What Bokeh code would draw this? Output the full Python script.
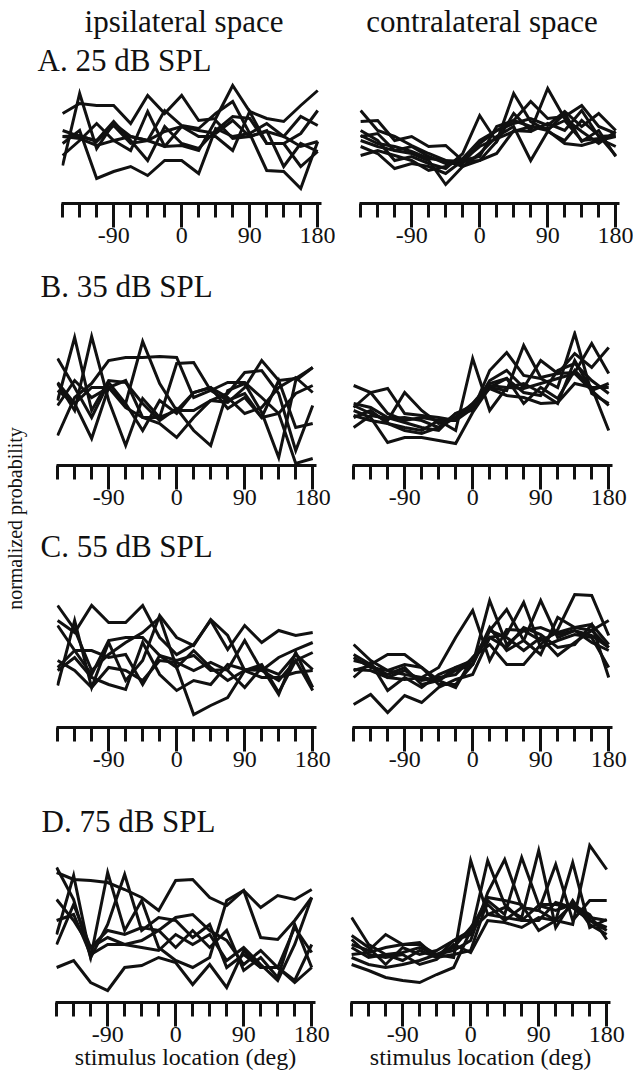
from bokeh.plotting import figure
from bokeh.layouts import row, column
from bokeh.models import FixedTicker, Label
from bokeh.embed import file_html
from bokeh.resources import INLINE

# ---------------- data ----------------
ANGLES = [-157.5, -135, -112.5, -90, -67.5, -45, -22.5, 0,
          22.5, 45, 67.5, 90, 112.5, 135, 157.5, 180]
MAJOR_TICKS = [-90, 0, 90, 180]
TICK_LABELS = ["-90", "0", "90", "180"]
MINOR_TICKS = [-157.5, -135, -112.5, -67.5, -45, -22.5,
               22.5, 45, 67.5, 112.5, 135, 157.5]

COLUMN_TITLES = ["ipsilateral space", "contralateral space"]
ROW_LABELS = ["A. 25 dB SPL", "B. 35 dB SPL", "C. 55 dB SPL", "D. 75 dB SPL"]
Y_LABEL = "normalized probability"
X_LABEL = "stimulus location (deg)"

A_IPSI = [
    [0.90, 1.00, 0.98, 0.98, 0.80, 1.08, 0.90, 1.08, 0.83, 0.85, 1.18, 0.92, 0.85, 0.82, 0.98, 1.13],
    [0.38, 1.10, 0.55, 0.80, 0.67, 0.63, 0.93, 0.78, 0.75, 0.90, 1.02, 0.70, 0.80, 0.67, 0.87, 0.78],
    [0.73, 0.67, 0.63, 0.82, 0.63, 0.43, 0.77, 0.60, 0.55, 0.73, 0.87, 0.85, 0.60, 0.60, 0.70, 0.93],
    [0.67, 0.65, 0.58, 0.63, 0.53, 0.92, 0.57, 0.58, 0.53, 0.83, 0.65, 0.67, 0.73, 0.37, 0.60, 0.52],
    [0.48, 0.63, 0.80, 0.63, 0.67, 0.63, 0.57, 0.77, 0.67, 0.67, 0.53, 0.92, 0.60, 0.60, 0.37, 0.52],
    [0.60, 0.73, 0.25, 0.32, 0.37, 0.28, 0.43, 0.43, 0.30, 0.75, 0.67, 0.70, 0.33, 0.32, 0.15, 0.62],
    [0.67, 0.68, 0.62, 0.78, 0.60, 0.63, 0.72, 0.77, 0.73, 0.70, 0.83, 0.67, 0.72, 0.67, 0.57, 0.62],
]
A_CONTRA = [
    [0.93, 0.73, 0.67, 0.58, 0.50, 0.43, 0.37, 0.43, 0.62, 1.10, 0.82, 0.73, 0.90, 0.62, 0.73, 0.47],
    [0.82, 0.83, 0.63, 0.67, 0.57, 0.58, 0.43, 0.47, 0.77, 0.83, 1.02, 0.85, 0.87, 0.98, 0.77, 0.70],
    [0.73, 0.63, 0.43, 0.47, 0.40, 0.35, 0.50, 0.88, 0.62, 0.90, 0.73, 1.15, 0.85, 0.72, 0.60, 0.72],
    [0.67, 0.70, 0.53, 0.50, 0.43, 0.19, 0.37, 0.50, 0.67, 0.77, 0.43, 0.72, 0.63, 0.83, 0.68, 0.48],
    [0.63, 0.57, 0.53, 0.57, 0.47, 0.40, 0.40, 0.60, 0.73, 0.80, 0.85, 0.78, 0.92, 0.77, 0.90, 0.73],
    [0.57, 0.50, 0.35, 0.40, 0.37, 0.30, 0.43, 0.57, 0.65, 0.72, 0.77, 0.73, 0.60, 0.58, 0.63, 0.67],
    [0.48, 0.53, 0.48, 0.43, 0.33, 0.37, 0.45, 0.63, 0.73, 0.83, 0.77, 0.75, 0.83, 0.63, 0.65, 0.57],
    [0.68, 0.60, 0.57, 0.52, 0.45, 0.43, 0.42, 0.43, 0.50, 0.73, 0.72, 0.80, 0.73, 0.93, 0.67, 0.68],
]
B_IPSI = [
    [1.07, 0.78, 0.48, 0.83, 0.62, 0.35, 0.65, 0.52, 0.73, 0.78, 0.57, 0.68, 0.48, 0.85, 0.38, 0.42],
    [0.65, 1.28, 0.55, 0.85, 0.83, 0.62, 0.45, 0.57, 0.35, 0.20, 0.75, 0.82, 0.53, 0.08, 0.85, 0.98],
    [0.82, 0.55, 1.29, 0.65, 0.20, 0.67, 0.48, 0.55, 0.73, 0.78, 0.68, 0.52, 0.58, 0.78, 0.88, 0.73],
    [0.30, 0.68, 0.82, 1.05, 1.08, 1.08, 1.09, 1.08, 0.68, 0.75, 0.83, 0.83, 0.68, 0.52, 0.02, 0.07],
    [0.83, 0.62, 0.27, 0.78, 0.62, 1.24, 0.82, 0.55, 0.55, 0.65, 0.63, 0.78, 1.05, 0.85, 0.87, 0.98],
    [0.60, 0.85, 0.68, 0.78, 0.58, 0.48, 0.42, 0.28, 0.48, 0.65, 0.72, 0.93, 0.95, 0.72, 0.15, 0.60],
    [0.75, 0.62, 0.78, 0.78, 0.85, 0.48, 0.48, 1.02, 1.03, 0.75, 0.65, 0.72, 0.48, 0.52, 0.72, 0.80],
]
B_CONTRA = [
    [0.80, 0.73, 0.52, 0.45, 0.48, 0.45, 0.35, 1.07, 0.55, 0.78, 0.82, 0.73, 0.62, 1.05, 0.75, 0.60],
    [0.62, 0.58, 0.48, 0.43, 0.38, 0.35, 0.52, 0.55, 0.95, 1.13, 0.90, 0.87, 0.78, 1.32, 0.72, 0.62],
    [0.60, 0.52, 0.45, 0.73, 0.55, 0.42, 0.48, 0.62, 0.78, 0.75, 1.20, 0.88, 0.92, 0.93, 1.22, 0.92],
    [0.55, 0.48, 0.23, 0.28, 0.28, 0.25, 0.22, 0.53, 0.78, 0.87, 0.62, 0.78, 0.67, 0.95, 0.78, 0.35],
    [0.50, 0.45, 0.42, 0.38, 0.35, 0.45, 0.45, 0.57, 0.85, 0.95, 0.78, 1.05, 0.92, 1.12, 0.98, 1.18],
    [0.48, 0.55, 0.42, 0.35, 0.32, 0.38, 0.48, 0.58, 0.77, 0.70, 0.68, 0.62, 0.63, 0.82, 0.78, 0.78],
    [0.38, 0.50, 0.47, 0.48, 0.45, 0.38, 0.52, 0.60, 0.80, 0.78, 0.77, 0.82, 0.87, 0.92, 0.75, 0.82],
    [0.58, 0.73, 0.77, 0.52, 0.50, 0.48, 0.45, 0.62, 0.82, 0.87, 0.73, 0.70, 0.95, 1.02, 0.85, 0.72],
]
C_IPSI = [
    [1.07, 0.95, 1.22, 1.05, 1.05, 1.22, 0.90, 0.73, 0.83, 1.07, 0.78, 1.02, 0.85, 0.97, 0.92, 0.95],
    [1.22, 0.98, 0.57, 0.73, 0.85, 0.95, 1.10, 0.60, 0.77, 0.60, 0.47, 0.57, 0.60, 0.53, 0.73, 0.58],
    [0.42, 1.07, 0.40, 0.85, 0.47, 0.67, 1.12, 0.90, 0.82, 1.08, 0.92, 0.57, 0.63, 0.35, 0.67, 0.37],
    [1.02, 0.77, 0.53, 0.87, 0.90, 0.90, 0.72, 0.60, 0.13, 0.22, 0.30, 0.57, 0.50, 0.50, 0.55, 0.57],
    [0.67, 0.57, 0.40, 0.60, 0.57, 0.47, 0.67, 0.65, 0.57, 0.65, 0.57, 0.40, 0.60, 0.33, 0.75, 0.40],
    [0.57, 0.70, 0.50, 0.43, 0.38, 0.85, 0.53, 0.37, 0.47, 0.43, 0.63, 0.58, 0.57, 0.70, 0.78, 0.85],
    [0.60, 0.77, 0.77, 0.70, 0.73, 0.43, 0.72, 0.67, 0.72, 0.57, 0.58, 0.87, 0.57, 0.47, 0.67, 0.75],
]
C_CONTRA = [
    [0.83, 0.67, 0.57, 0.53, 0.50, 0.60, 0.90, 1.17, 0.67, 0.98, 0.97, 0.87, 0.95, 1.00, 0.97, 0.80],
    [0.73, 0.63, 0.73, 0.73, 0.60, 0.43, 0.43, 0.63, 1.27, 0.83, 0.97, 1.00, 0.93, 0.97, 0.85, 0.77],
    [0.70, 0.60, 0.57, 0.63, 0.60, 0.47, 0.57, 0.63, 0.97, 1.18, 0.87, 0.73, 1.10, 1.00, 1.03, 0.83],
    [0.67, 0.63, 0.50, 0.57, 0.47, 0.50, 0.53, 0.70, 0.90, 0.93, 1.25, 0.80, 0.87, 0.93, 0.90, 0.60],
    [0.58, 0.57, 0.50, 0.48, 0.50, 0.47, 0.60, 0.63, 1.00, 0.77, 0.87, 1.27, 0.90, 0.97, 0.92, 0.80],
    [0.57, 0.62, 0.53, 0.60, 0.43, 0.47, 0.40, 0.70, 0.83, 0.63, 0.63, 0.83, 0.98, 1.33, 1.32, 0.92],
    [0.50, 0.65, 0.37, 0.50, 0.40, 0.53, 0.60, 0.67, 0.97, 0.90, 0.77, 0.90, 0.72, 0.85, 0.97, 1.07],
    [0.23, 0.33, 0.15, 0.32, 0.25, 0.40, 0.48, 0.53, 0.90, 0.80, 1.00, 0.93, 0.80, 0.83, 1.03, 0.50],
]
D_IPSI = [
    [1.30, 1.23, 1.22, 1.20, 1.13, 1.05, 0.92, 1.22, 1.23, 1.05, 0.97, 1.12, 0.95, 1.07, 1.03, 1.13],
    [1.35, 1.03, 0.45, 1.30, 0.72, 1.02, 0.55, 0.42, 0.35, 0.45, 1.02, 1.12, 0.65, 0.63, 0.82, 1.05],
    [0.68, 1.27, 0.45, 0.78, 1.28, 0.72, 0.85, 0.82, 0.65, 0.78, 0.35, 0.48, 0.35, 0.35, 0.22, 0.58],
    [1.03, 0.82, 0.55, 0.72, 0.68, 0.75, 0.72, 0.85, 0.88, 0.72, 0.62, 0.38, 0.52, 0.35, 0.75, 0.50],
    [0.82, 0.88, 0.48, 0.58, 0.58, 0.62, 0.72, 0.55, 0.72, 0.55, 0.72, 0.32, 0.45, 0.25, 0.78, 0.35],
    [0.35, 0.42, 0.20, 0.12, 0.35, 0.37, 0.45, 0.40, 0.18, 0.38, 0.15, 0.52, 0.35, 0.35, 0.20, 0.35],
    [0.58, 0.98, 0.55, 0.65, 0.58, 0.55, 0.52, 0.68, 0.58, 0.68, 0.42, 0.55, 0.38, 0.22, 0.58, 1.05],
]
D_CONTRA = [
    [0.85, 0.58, 0.48, 0.50, 0.55, 0.48, 0.45, 1.42, 0.88, 0.85, 0.82, 0.97, 0.92, 0.98, 0.88, 0.63],
    [0.67, 0.55, 0.38, 0.55, 0.48, 0.52, 0.62, 0.68, 1.42, 0.98, 0.82, 0.82, 1.00, 0.95, 0.82, 0.75],
    [0.58, 0.52, 0.68, 0.58, 0.58, 0.48, 0.52, 0.62, 1.10, 1.43, 0.95, 0.92, 0.82, 0.98, 0.85, 0.82],
    [0.55, 0.45, 0.48, 0.42, 0.52, 0.45, 0.48, 0.52, 1.02, 0.88, 1.45, 0.98, 0.98, 0.95, 0.82, 0.72],
    [0.48, 0.50, 0.55, 0.58, 0.60, 0.45, 0.62, 0.72, 0.88, 0.95, 0.85, 1.52, 0.75, 1.02, 0.78, 0.68],
    [0.45, 0.38, 0.35, 0.38, 0.42, 0.48, 0.55, 0.75, 0.98, 0.82, 0.95, 0.92, 1.38, 0.82, 1.02, 1.02],
    [0.38, 0.32, 0.25, 0.22, 0.20, 0.28, 0.35, 0.72, 1.05, 1.02, 0.98, 0.72, 0.82, 1.40, 0.75, 0.83],
    [0.63, 0.48, 0.45, 0.48, 0.38, 0.43, 0.58, 0.50, 0.82, 0.80, 0.75, 0.85, 0.82, 0.78, 1.57, 1.33],
]

# ---------------- layout / style ----------------
FONT = "Liberation Serif"
INK = "#111111"
X_START, X_END = -159, 185
PX_PER_UNIT = 100
LW = 3.0

PAGE_W, PAGE_H = 633, 1076
STRIP_W, LEFT_W = 30, 305
RIGHT_W = PAGE_W - STRIP_W - LEFT_W
HEADER_H = [80, 68, 69, 58]           # text band above each row of panels
PANEL_H = [182, 191, 192, 236]        # panel figure heights
BORDER_BOTTOM = [59, 56, 55, 74]
LEFT_BL = [31, 26, 26, 25]
RIGHT_BL = [24, 17, 17, 15]
FRAME_W = 260


def add_text(p, text, x, y, size, align="left", baseline="alphabetic", angle=0):
    p.add_layout(Label(x=x, y=y, text=text, text_font=FONT, text_font_size=size,
                       text_color=INK, text_align=align, text_baseline=baseline,
                       angle=angle, angle_units="deg"))


def text_band(width, height, x0, y0):
    """A plain figure whose data space equals page pixels (x0..x0+w, y0..y0+h)."""
    p = figure(width=width, height=height, x_range=(x0, x0 + width),
               y_range=(y0 + height, y0), x_axis_type=None, y_axis_type=None,
               toolbar_location=None, output_backend="svg", min_border=0,
               outline_line_color=None, background_fill_color="white",
               border_fill_color="white")
    p.grid.visible = False
    return p


def panel(series, width, height, b_left, b_bottom, x_label=None):
    frame_h = height - b_bottom
    p = figure(width=width, height=height,
               x_range=(X_START, X_END), y_range=(0, frame_h / PX_PER_UNIT),
               y_axis_type=None, toolbar_location=None, output_backend="svg",
               min_border_left=b_left, min_border_right=width - b_left - FRAME_W,
               min_border_top=0, min_border_bottom=b_bottom,
               outline_line_color=None, background_fill_color="white",
               border_fill_color="white")
    p.grid.visible = False
    for ys in series:
        p.line(ANGLES, ys, line_color=INK, line_width=LW, line_join="miter")
    ax = p.xaxis[0]
    ax.ticker = FixedTicker(ticks=MAJOR_TICKS, minor_ticks=MINOR_TICKS)
    ax.major_label_overrides = {float(t): s for t, s in zip(MAJOR_TICKS, TICK_LABELS)}
    ax.axis_line_color = INK
    ax.axis_line_width = LW
    ax.major_tick_line_color = INK
    ax.minor_tick_line_color = INK
    ax.major_tick_line_width = LW
    ax.minor_tick_line_width = LW
    ax.major_tick_in = 0
    ax.minor_tick_in = 0
    ax.major_tick_out = 24
    ax.minor_tick_out = 14
    ax.major_label_standoff = 0
    ax.major_label_text_font = FONT
    ax.major_label_text_font_size = "24px"
    ax.major_label_text_color = INK
    if x_label:
        ax.axis_label = x_label
        ax.axis_label_text_font = FONT
        ax.axis_label_text_font_size = "24px"
        ax.axis_label_text_font_style = "normal"
        ax.axis_label_text_color = INK
        ax.axis_label_standoff = -1
    return p


ROW_DATA = [(A_IPSI, A_CONTRA), (B_IPSI, B_CONTRA), (C_IPSI, C_CONTRA), (D_IPSI, D_CONTRA)]
ROW_LABEL_POS = [(37, 60), (40, 286), (40, 546), (41, 821)]   # page px (left, text anchor)

items = []
y_top = 0
for i, (ipsi, contra) in enumerate(ROW_DATA):
    hb = text_band(PAGE_W - STRIP_W, HEADER_H[i], STRIP_W, y_top)
    add_text(hb, ROW_LABELS[i], ROW_LABEL_POS[i][0], ROW_LABEL_POS[i][1], "31px")
    if i == 0:
        add_text(hb, COLUMN_TITLES[0], 183.5, 21, "31px", align="center")
        add_text(hb, COLUMN_TITLES[1], 481.5, 21, "31px", align="center")
    items.append(hb)
    y_top += HEADER_H[i]
    xl = X_LABEL if i == len(ROW_DATA) - 1 else None
    lp = panel(ipsi, LEFT_W, PANEL_H[i], LEFT_BL[i], BORDER_BOTTOM[i], xl)
    rp = panel(contra, RIGHT_W, PANEL_H[i], RIGHT_BL[i], BORDER_BOTTOM[i], xl)
    items.append(row(lp, rp))
    y_top += PANEL_H[i]

strip = text_band(STRIP_W, PAGE_H, 0, 0)
add_text(strip, Y_LABEL, 14, 518, "20px", align="center", baseline="middle", angle=90)

layout = row(strip, column(*items))
open("out.html", "w").write(file_html(layout, INLINE))
